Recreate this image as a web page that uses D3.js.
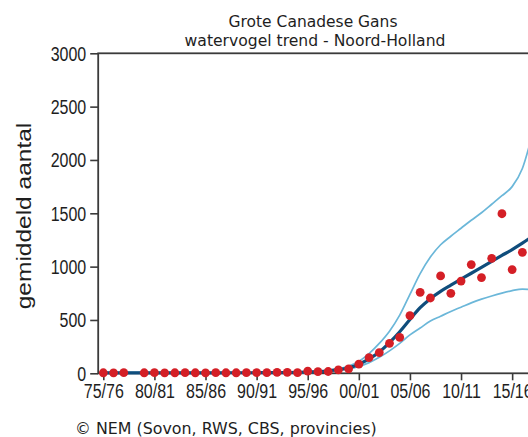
<!DOCTYPE html>
<html>
<head>
<meta charset="utf-8">
<script src="https://cdn.jsdelivr.net/npm/d3@7"></script>
<style>
html,body{margin:0;padding:0;background:#fff;}
svg{display:block;}
</style>
</head>
<body>
<script>
// ---- data ----
const titleLines = ["Grote Canadese Gans", "watervogel trend - Noord-Holland"];
const yLabel = "gemiddeld aantal";
const footer = "\u00A9 NEM (Sovon, RWS, CBS, provincies)";

const seasons = ["75/76","76/77","77/78","78/79","79/80","80/81","81/82","82/83","83/84","84/85",
  "85/86","86/87","87/88","88/89","89/90","90/91","91/92","92/93","93/94","94/95",
  "95/96","96/97","97/98","98/99","99/00","00/01","01/02","02/03","03/04","04/05",
  "05/06","06/07","07/08","08/09","09/10","10/11","11/12","12/13","13/14","14/15",
  "15/16","16/17","17/18"];
const tickLabels = ["75/76","80/81","85/86","90/91","95/96","00/01","05/06","10/11","15/16"];
const yTicks = [0,500,1000,1500,2000,2500,3000];

// observed mean counts (dots)
const counts = [5,4,6,null,5,6,4,5,6,5,
  4,6,5,5,6,7,6,8,9,6,
  20,15,17,33,42,86,147,194,281,337,
  541,759,706,913,750,865,1019,897,1078,1496,
  972,1134,null];
// trend line
const trend = [4,4,4,4,4,4,4,4,4,4,
  4,4,5,5,5,5,6,6,7,9,
  12,16,23,34,52,85,135,200,288,390,
  505,615,700,768,826,882,938,993,1050,1105,
  1160,1220,1285];
// upper confidence limit
const upper = [9,9,9,9,9,9,9,9,9,9,
  9,9,10,10,10,10,11,11,12,13,
  15,20,28,42,68,112,185,280,395,545,
  740,935,1090,1205,1285,1360,1435,1505,1585,1665,
  1750,1920,2250];
// lower confidence limit
const lower = [1,1,1,1,1,1,1,1,1,1,
  1,1,2,2,2,2,2,3,3,4,
  8,12,18,27,40,64,100,150,210,280,
  360,425,490,535,580,620,660,695,725,752,
  775,790,780];

// ---- layout ----
const W = 528, H = 437;
const svg = d3.select("body").append("svg").attr("width", W).attr("height", H);

const x = d3.scaleLinear().domain([-0.5, 42.5]).range([98.2, 537.7]);
const y = d3.scaleLinear().domain([0, 3000]).range([373.3, 53.3]);

const axisColor = "#3b3b3b";
const textColor = "#1e1e1e";

function fitWidth(t, w) {
  const L = t.node().getComputedTextLength();
  return L > 0 ? w / L : 1;
}

// title
const tFont = "'DejaVu Sans', Verdana, sans-serif";
[[titleLines[0], 313, 26.5, 169], [titleLines[1], 315, 46, 261]].forEach(([s, cx, by, w]) => {
  const t = svg.append("text").text(s)
    .attr("x", 0).attr("y", 0)
    .attr("text-anchor", "middle")
    .attr("font-family", tFont).attr("font-size", 16)
    .attr("fill", textColor);
  const sx = fitWidth(t, w);
  t.attr("transform", `translate(${cx},${by}) scale(${sx},1)`);
});

// footer
{
  const t = svg.append("text").text(footer)
    .attr("x", 0).attr("y", 0)
    .attr("font-family", tFont).attr("font-size", 16.5)
    .attr("fill", textColor);
  const sx = fitWidth(t, 302);
  t.attr("transform", `translate(75,434) scale(${sx},1)`);
}

// y label
svg.append("text").text(yLabel)
  .attr("x", 0).attr("y", 0)
  .attr("text-anchor", "middle")
  .attr("font-family", "'Liberation Sans', Arial, sans-serif")
  .attr("font-size", 24.5)
  .attr("fill", textColor)
  .attr("transform", "translate(30.5,216) scale(0.8,1) rotate(-90)");

const tickFont = "'Liberation Sans', Arial, sans-serif";
const sxTick = 0.82;

// y axis
const gy = svg.append("g").attr("transform", `translate(${x.range()[0]},0)`)
  .call(d3.axisLeft(y).tickValues(yTicks).tickFormat(d3.format("d")).tickSize(8).tickSizeOuter(0));
gy.select(".domain").remove();
gy.selectAll(".tick line").attr("stroke", axisColor).attr("stroke-width", 1.6);
gy.selectAll(".tick text")
  .attr("x", 0).attr("dy", "0.36em")
  .attr("font-family", tickFont).attr("font-size", 19.5)
  .attr("fill", textColor)
  .attr("transform", `translate(-12,0) scale(${sxTick},1)`);

// x axis
const tickIdx = tickLabels.map(l => seasons.indexOf(l));
const gx = svg.append("g").attr("transform", `translate(0,${y(0)})`)
  .call(d3.axisBottom(x).tickValues(tickIdx).tickFormat((d) => seasons[d]).tickSize(7).tickSizeOuter(0));
gx.select(".domain").remove();
gx.selectAll(".tick line").attr("stroke", axisColor).attr("stroke-width", 1.6);
gx.selectAll(".tick text")
  .attr("y", 24.7).attr("dy", 0)
  .attr("font-family", tickFont).attr("font-size", 19.5)
  .attr("fill", textColor)
  .attr("transform", `scale(${sxTick},1)`);

// frame
svg.append("rect")
  .attr("x", x.range()[0]).attr("y", y(3000))
  .attr("width", x.range()[1] - x.range()[0]).attr("height", y(0) - y(3000))
  .attr("fill", "none").attr("stroke", axisColor).attr("stroke-width", 1.8);

// lines
const lineGen = d3.line()
  .x((d, i) => x(i)).y(d => y(d))
  .curve(d3.curveMonotoneX);

svg.append("path").datum(upper).attr("d", lineGen)
  .attr("fill", "none").attr("stroke", "#6bb7d9").attr("stroke-width", 1.7);
svg.append("path").datum(lower).attr("d", lineGen)
  .attr("fill", "none").attr("stroke", "#6bb7d9").attr("stroke-width", 1.7);
svg.append("path").datum(trend).attr("d", lineGen)
  .attr("fill", "none").attr("stroke", "#0f4d7c").attr("stroke-width", 3.2);

// dots
svg.append("g").selectAll("circle")
  .data(counts.map((v, i) => ({ v, i })).filter(d => d.v !== null))
  .join("circle")
  .attr("cx", d => x(d.i)).attr("cy", d => y(d.v))
  .attr("r", 4.4)
  .attr("fill", "#d41f26");
</script>
</body>
</html>
